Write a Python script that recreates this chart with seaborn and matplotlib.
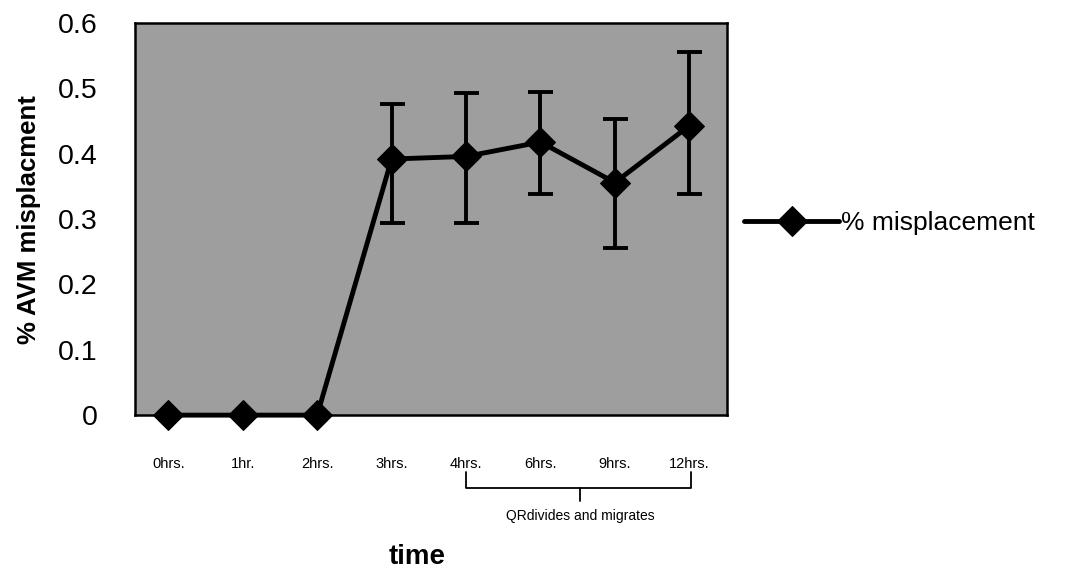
import matplotlib
matplotlib.use("Agg")
import matplotlib.pyplot as plt
import matplotlib.transforms as mtransforms
import numpy as np
import pandas as pd
import seaborn as sns

# ---- data ----
time_labels = ["0hrs.", "1hr.", "2hrs.", "3hrs.", "4hrs.", "6hrs.", "9hrs.", "12hrs."]
misplacement = [0.0, 0.0, 0.0, 0.392, 0.396, 0.418, 0.356, 0.443]
err_low = [0.0, 0.0, 0.0, 0.098, 0.102, 0.080, 0.100, 0.105]
err_high = [0.0, 0.0, 0.0, 0.085, 0.097, 0.077, 0.097, 0.113]
y_ticks = [0, 0.1, 0.2, 0.3, 0.4, 0.5, 0.6]
y_tick_labels = ["0", "0.1", "0.2", "0.3", "0.4", "0.5", "0.6"]
series_name = "% misplacement"
bracket_text = "QRdivides and migrates"

sns.set_style("white")
plt.rcParams["font.family"] = ["Liberation Sans", "DejaVu Sans"]
plt.rcParams["text.color"] = "black"
plt.rcParams["axes.labelcolor"] = "black"
plt.rcParams["xtick.color"] = "black"
plt.rcParams["ytick.color"] = "black"

df = pd.DataFrame({"pos": np.arange(len(time_labels)), "value": misplacement})

fig = plt.figure(figsize=(10.7, 5.79), dpi=100)
ax = fig.add_axes([0.126, 0.283, 0.553, 0.677])
ax.set_facecolor("#9e9e9e")

ax.errorbar(df["pos"][3:], df["value"][3:],
            yerr=[err_low[3:], err_high[3:]],
            fmt="none", ecolor="black", elinewidth=2.8, capsize=9, capthick=2.8, zorder=2)

sns.lineplot(data=df, x="pos", y="value", ax=ax, color="black", linewidth=3.5,
             marker="D", markersize=15, markeredgecolor="black", label=series_name,
             clip_on=False, zorder=3)

ax.set_xlim(-0.45, 7.5)
ax.set_ylim(0, 0.6)
ax.set_yticks(y_ticks)
ax.set_yticklabels(y_tick_labels, fontsize=20.5)
ax.set_xticks(df["pos"])
ax.set_xticklabels(time_labels, fontsize=10.5)
ax.tick_params(axis="x", length=0, pad=30)
ax.tick_params(axis="y", length=0, pad=27)
for sp in ax.spines.values():
    sp.set_color("black")
    sp.set_linewidth(1.8)
    sp.set_visible(True)

ax.set_ylabel("% AVM misplacment", fontsize=18.5, fontweight="bold")
ax.yaxis.set_label_coords(-0.158, 0.5)
ax.set_xlabel("time", fontsize=20, fontweight="bold")
ax.xaxis.set_label_coords((417 - 135) / 592, -0.33)

# bracket annotation
tr = mtransforms.blended_transform_factory(ax.transData, ax.transAxes)
bx = [4.0, 4.0, 7.02, 7.02]
by = [-0.145, -0.186, -0.186, -0.145]
ax.plot(bx, by, color="black", lw=1.3, transform=tr, clip_on=False)
ax.plot([5.53, 5.53], [-0.186, -0.22], color="black", lw=1.3, transform=tr, clip_on=False)
ax.text(5.53, -0.258, bracket_text, transform=tr, ha="center", va="center", fontsize=10)

leg = ax.legend(loc="center left", bbox_to_anchor=(1.03, 0.49), frameon=False,
                fontsize=19, handlelength=3.6, handletextpad=0.05, borderpad=0, borderaxespad=0)
for t in leg.get_texts():
    t.set_color("black")

fig.savefig("out.png", dpi=100)
